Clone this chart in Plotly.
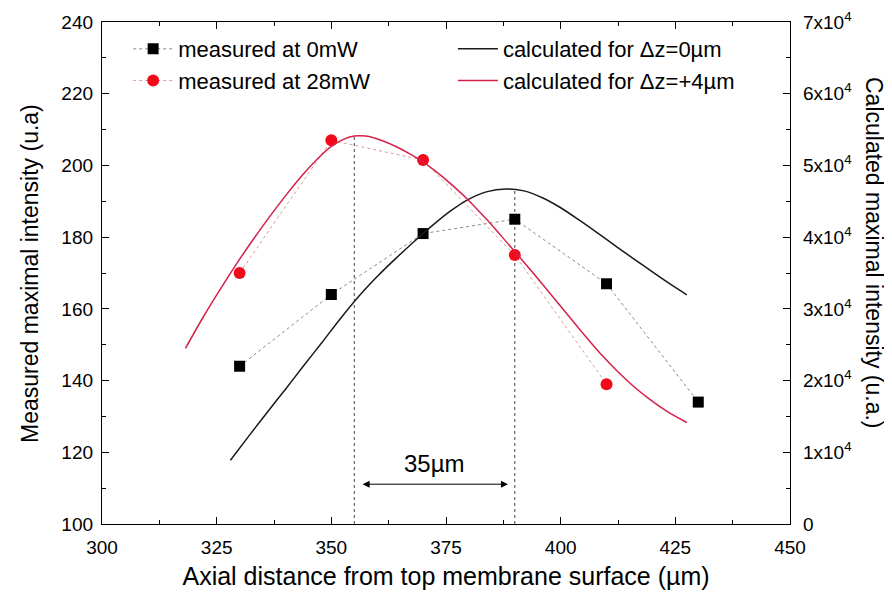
import plotly.graph_objects as go

# Measured data (left axis)
x_meas0 = [330, 350, 370, 390, 410, 430]
y_meas0 = [144, 164, 181, 185, 167, 134]
x_meas28 = [330, 350, 370, 390, 410]
y_meas28 = [170, 207, 201.5, 175, 139]

# Calculated curves (right axis)
x_calc0 = [328, 332, 336, 340, 344, 348, 352, 356, 360, 364, 368, 372, 376, 380,
           384, 388, 392, 396, 400, 404, 408, 412, 416, 420, 424, 427.5]
y_calc0 = [8900, 12250, 15550, 18800, 22100, 25350, 28650, 31750, 34500, 37000, 39350,
           41600, 43650, 45300, 46350, 46700, 46450, 45500, 44100, 42400, 40600, 38750,
           36950, 35150, 33400, 31950]
x_calc4 = [318.2, 322.1, 325.7, 329.4, 333.0, 336.6, 340.3, 343.9, 347.5, 350.0, 352.5,
           355.0, 357.5, 359.2, 361.7, 364.2, 367.0, 370.0, 372.5, 375.1, 379.5, 383.9,
           386.8, 389.7, 394.0, 397.7, 401.3, 404.9, 408.6, 412.2, 415.8, 419.5, 423.1, 427.5]
y_calc4 = [24500, 28900, 32650, 36350, 39700, 42900, 46000, 48800, 51250, 52650, 53600,
           54100, 54100, 53850, 53300, 52600, 51650, 50500, 49300, 47950, 45400, 42450,
           40350, 38200, 35000, 32150, 29350, 26550, 23800, 21400, 19250, 17350, 15750, 14150]

# Peak markers and annotation
peak_x = [355, 390]
peak_y = [208.1, 193.2]
arrow_y = 111.1
arrow_label = "35µm"

x_ticks = [300, 325, 350, 375, 400, 425, 450]
y_ticks = [100, 120, 140, 160, 180, 200, 220, 240]
y2_ticks = [0, 10000, 20000, 30000, 40000, 50000, 60000, 70000]
y2_ticktext = ["0"] + [f"{i}x10<sup>4</sup>" for i in range(1, 8)]

FONT = "Liberation Sans, Arial, sans-serif"
RED_M = "#f20a1a"
RED_L = "#d6204a"
TICK_SIZE = 19
TITLE_SIZE = 23
LEG_SIZE = 22

fig = go.Figure()

fig.add_trace(go.Scatter(
    x=x_meas0, y=y_meas0, mode="lines+markers", name="measured at 0mW",
    line=dict(color="#8a8a8a", width=1, dash="dot"),
    marker=dict(symbol="square", size=11, color="black"),
    legend="legend", legendgroup="a"))
fig.add_trace(go.Scatter(
    x=x_meas28, y=y_meas28, mode="lines+markers", name="measured at 28mW",
    line=dict(color="#d89a9a", width=1, dash="dot"),
    marker=dict(symbol="circle", size=12, color=RED_M),
    legend="legend", legendgroup="b"))
fig.add_trace(go.Scatter(
    x=x_calc0, y=y_calc0, mode="lines", name="calculated for \u0394z=0µm",
    line=dict(color="#1a1a1a", width=1.5, shape="spline", smoothing=0.8), yaxis="y2",
    legend="legend2", legendgroup="c"))
fig.add_trace(go.Scatter(
    x=x_calc4, y=y_calc4, mode="lines", name="calculated for \u0394z=+4µm",
    line=dict(color=RED_L, width=1.5, shape="spline", smoothing=0.8), yaxis="y2",
    legend="legend2", legendgroup="d"))

for px, py in zip(peak_x, peak_y):
    fig.add_shape(type="line", x0=px, x1=px, y0=100, y1=py, xref="x", yref="y",
                  line=dict(color="#444", width=1, dash="3px,3px"), layer="below")

fig.add_annotation(x=peak_x[1] - 1.5, y=arrow_y, ax=peak_x[0] + 1.5, ay=arrow_y,
                   xref="x", yref="y", axref="x", ayref="y", text="",
                   showarrow=True, arrowhead=2, arrowside="end+start",
                   arrowsize=1.4, arrowwidth=1, arrowcolor="black")
fig.add_annotation(x=(peak_x[0] + peak_x[1]) / 2, y=arrow_y + 5.8, xref="x", yref="y",
                   text=arrow_label, showarrow=False,
                   font=dict(family=FONT, size=24, color="black"))

# Axis titles
fig.add_annotation(x=-0.1047, y=0.5, xref="paper", yref="paper", xanchor="center",
                   yanchor="middle",
                   text="Measured maximal intensity (u.a)", textangle=-90,
                   showarrow=False, font=dict(family=FONT, size=TITLE_SIZE, color="black"))
fig.add_annotation(x=1.122, y=0.54, xref="paper", yref="paper", xanchor="center",
                   yanchor="middle",
                   text="Calculated maximal intensity (u.a.)", textangle=90,
                   showarrow=False, font=dict(family=FONT, size=TITLE_SIZE, color="black"))

axis_common = dict(showline=True, linecolor="black", linewidth=1.3, ticks="inside",
                   ticklen=7, tickwidth=1.2, tickcolor="black", showgrid=False,
                   zeroline=False, automargin=False,
                   tickfont=dict(family=FONT, size=TICK_SIZE, color="black"))

fig.update_layout(
    width=892, height=598,
    margin=dict(l=94, r=110, t=14, b=82),
    paper_bgcolor="white", plot_bgcolor="white",
    font=dict(family=FONT, color="black"),
    xaxis=dict(range=[300, 450], tickvals=x_ticks, mirror="ticks", ticklabelstandoff=6,
               title=dict(text="Axial distance from top membrane surface (µm)",
                          font=dict(family=FONT, size=25), standoff=10),
               minor=dict(ticks="inside", ticklen=4, tickwidth=1, tickcolor="black", dtick=12.5),
               **axis_common),
    yaxis=dict(range=[100, 240], tickvals=y_ticks, ticklabelstandoff=4,
               minor=dict(ticks="inside", ticklen=4, tickwidth=1, tickcolor="black", dtick=10),
               **axis_common),
    yaxis2=dict(range=[0, 70000], overlaying="y", side="right", tickvals=y2_ticks,
                ticktext=y2_ticktext, ticklabelstandoff=8,
                minor=dict(ticks="inside", ticklen=4, tickwidth=1, tickcolor="black", dtick=5000),
                **axis_common),
    legend=dict(x=0.038, y=0.988, xanchor="left", yanchor="top", bgcolor="rgba(0,0,0,0)",
                font=dict(family=FONT, size=LEG_SIZE), tracegroupgap=0, itemwidth=40),
    legend2=dict(x=0.510, y=0.988, xanchor="left", yanchor="top", bgcolor="rgba(0,0,0,0)",
                 font=dict(family=FONT, size=LEG_SIZE), tracegroupgap=0, itemwidth=40),
)

fig.write_html("out.html")
